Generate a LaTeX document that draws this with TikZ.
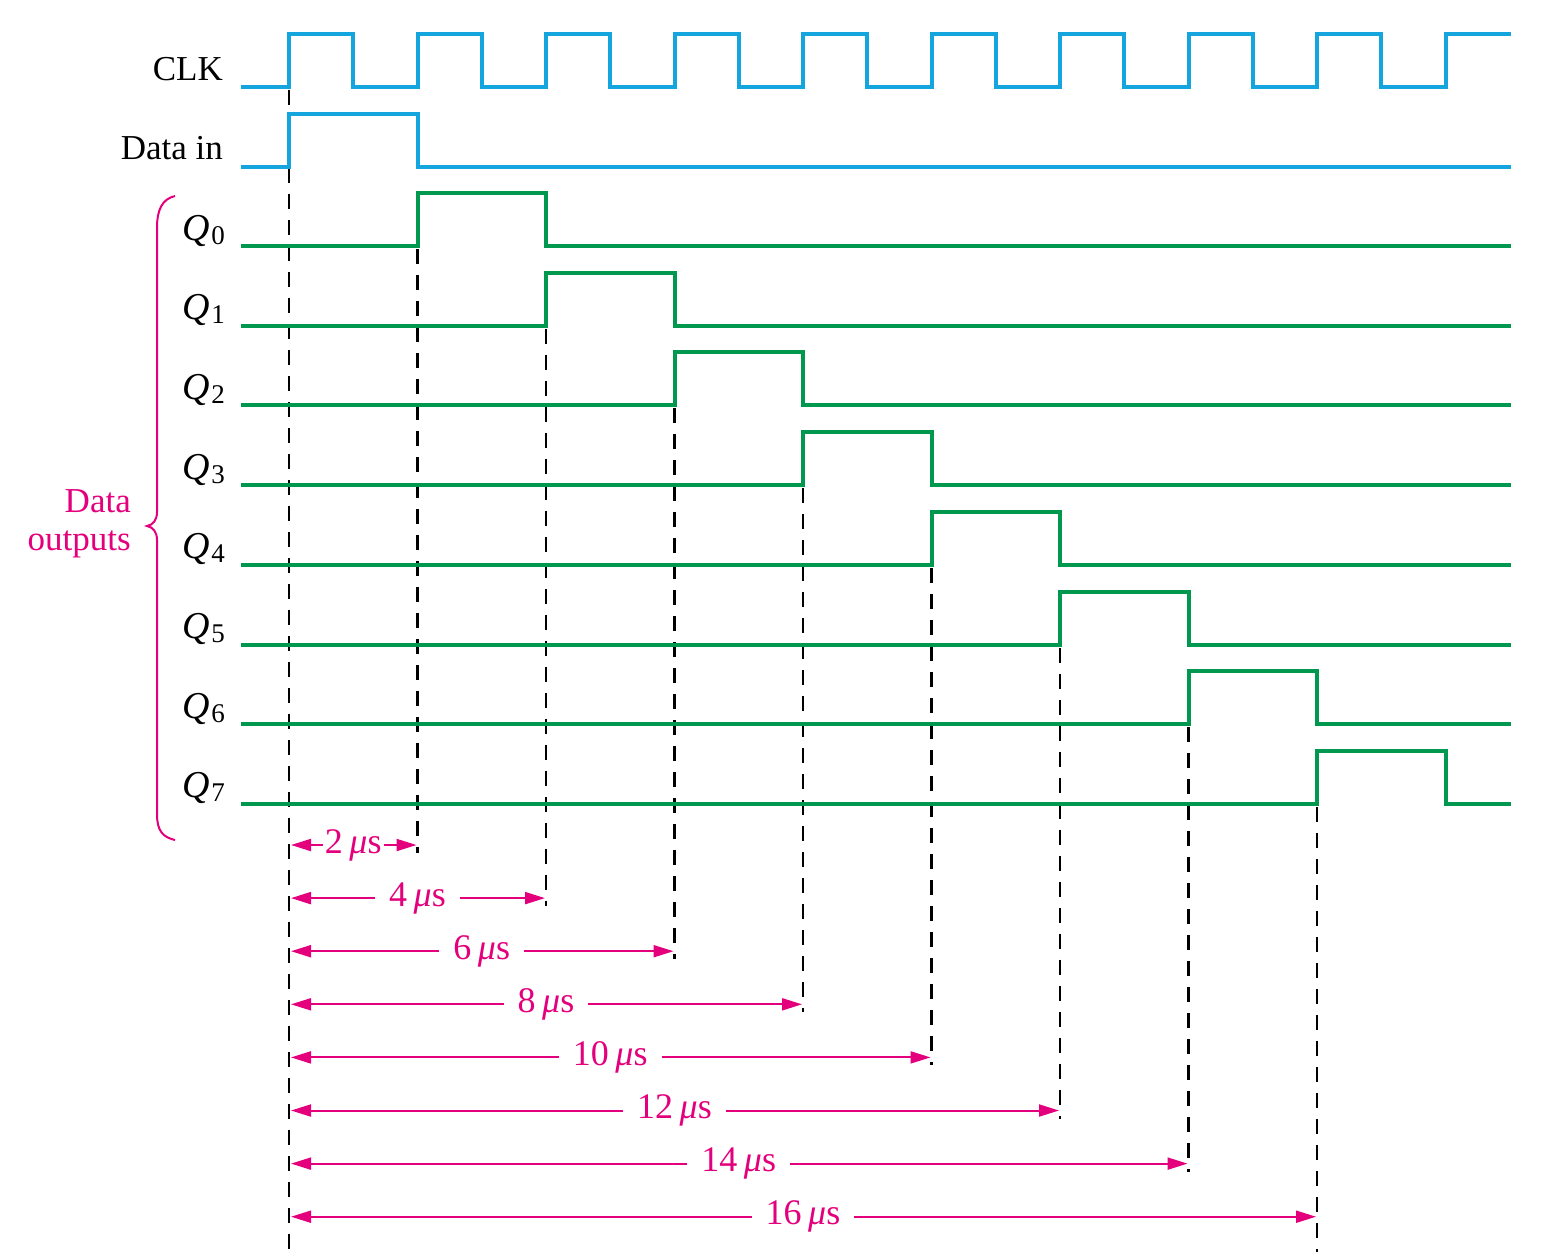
\documentclass[tikz,border=0pt]{standalone}
\usepackage{fontspec}
\setmainfont{Liberation Serif}
\usetikzlibrary{arrows.meta}
\definecolor{clkblue}{RGB}{20,165,222}
\definecolor{qgreen}{RGB}{0,152,78}
\definecolor{mag}{RGB}{228,0,124}
\begin{document}
\begin{tikzpicture}[x=1pt,y=-1pt,
 sig/.style={line width=4pt, line join=miter},
 clksig/.style={sig, draw=clkblue},
 qsig/.style={sig, draw=qgreen},
 guide/.style={draw=black, line width=2.2pt, dash pattern=on 15pt off 11pt},
 dimarrow/.style={draw=mag, line width=2pt, -{Triangle[length=20pt,width=12pt]}},
 lab/.style={font=\fontsize{35}{40}\selectfont, inner sep=0pt},
 qlab/.style={font=\fontsize{38}{42}\selectfont, inner sep=0pt},
 mlab/.style={font=\fontsize{36}{40}\selectfont, text=mag, fill=white, inner ysep=2pt},
]
\useasboundingbox (0,0) rectangle (1541,1259);

% labels
\node[lab, anchor=base east] (clk) at (223,80) {CLK};
\node[lab, anchor=base east] (din) at (223,159) {Data in};
\node[lab, text=mag, anchor=base east] (dout1) at (131,512) {Data};
\node[lab, text=mag, anchor=base east] (dout2) at (131,550) {outputs};

% brace
\draw[mag, line width=2pt] (175,196) .. controls (162,199) and (157,210) .. (157,228)
  -- (157,512) .. controls (157,520) and (153,525) .. (147,526)
  .. controls (153,527) and (157,532) .. (157,540)
  -- (157,814) .. controls (157,830) and (162,837) .. (175,840);

% guides
\coordinate (gt0) at (289,90);
\coordinate (gb0) at (289,1250);
\draw[guide] (gt0) -- (gb0);
\foreach \k in {1,...,8} {
  \pgfmathsetmacro{\rx}{289+128.5*\k}
  \pgfmathsetmacro{\yt}{246+79.7*(\k-1)+3}
  \pgfmathsetmacro{\ya}{845+53.1*(\k-1)}
  \pgfmathsetmacro{\yb}{\k==8 ? 1252 : \ya+8}
  \coordinate (gt\k) at (\rx,\yt);
  \coordinate (gb\k) at (\rx,\yb);
  \draw[guide] (gt\k) -- (gb\k);
}

% CLK
\draw[clksig] (241,87) -- (289,87) |- (353.25,34) |- (417.5,87) |- (481.75,34) |- (546,87)
  |- (610.25,34) |- (674.5,87) |- (738.75,34) |- (803,87) |- (867.25,34) |- (931.5,87)
  |- (995.75,34) |- (1060,87) |- (1124.25,34) |- (1188.5,87) |- (1252.75,34) |- (1317,87)
  |- (1381.25,34) |- (1445.5,87) |- (1511,34);
% Data in
\draw[clksig] (241,167) -- (289,167) |- (417.5,114) |- (1511,167);

% Q outputs
\foreach \k in {0,...,7} {
  \pgfmathsetmacro{\lo}{246+79.7*\k}
  \pgfmathsetmacro{\hi}{\lo-53}
  \pgfmathsetmacro{\ra}{289+128.5*(\k+1)}
  \pgfmathsetmacro{\fa}{289+128.5*(\k+2)}
  \draw[qsig] (241,\lo) -- (\ra,\lo) |- (\fa,\hi) |- (1511,\lo);
  \node[qlab, anchor=base east] (q\k) at (225,\lo-6) {\textit{Q}\kern1pt\raisebox{-4pt}{\fontsize{27}{30}\selectfont\k}};
}

% dimension arrows
\foreach \k in {1,...,8} {
  \pgfmathsetmacro{\rx}{289+128.5*\k}
  \pgfmathsetmacro{\ya}{845+53.1*(\k-1)}
  \pgfmathsetmacro{\mx}{(289+\rx)/2}
  \pgfmathtruncatemacro{\val}{2*\k}
  \pgfmathsetmacro{\sep}{\k==1 ? 2 : 14}
  \coordinate (s\k) at (291,\ya);
  \coordinate (e\k) at (\rx-1,\ya);
  \node[mlab, inner xsep=\sep pt] (m\k) at (\mx,\ya) {\val\hspace{0.18em}\textit{μ}s};
  \draw[dimarrow] (m\k.west) -- (s\k);
  \draw[dimarrow] (m\k.east) -- (e\k);
}
\end{tikzpicture}
\end{document}
